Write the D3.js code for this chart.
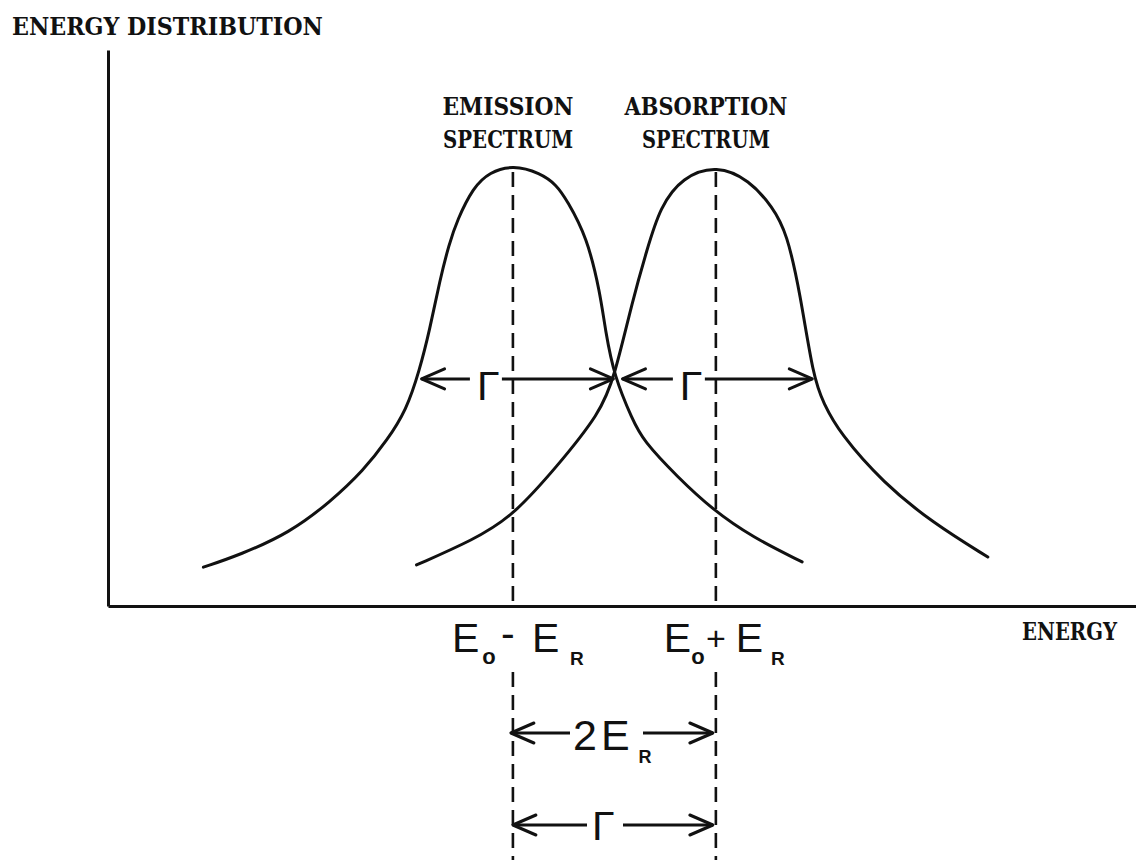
<!DOCTYPE html>
<html>
<head>
<meta charset="utf-8">
<script src="https://cdn.jsdelivr.net/npm/d3@7"></script>
<style>
  body { margin: 0; background: #fff; }
  svg { display: block; }
</style>
</head>
<body>
<svg id="chart" width="1136" height="860"></svg>
<script>
// Energy in units of the recoil energy E_R, measured from the transition energy E0.
const tickEnergies = [-1, 1];
const tickSigns = ["-", "+"];
const peakCenters = [-1, 1];
const peakTitles = [["EMISSION", "SPECTRUM"], ["ABSORPTION", "SPECTRUM"]];

// Emission line shape (relative intensity vs energy)
const emissionE = [-4.05, -3.69, -3.20, -2.80, -2.47, -2.24, -2.05, -1.92, -1.82, -1.72, -1.63, -1.55, -1.39, -1.23, -1.00,
                   -0.73, -0.57, -0.47, -0.27, -0.14, -0.09, 0.00, 0.18, 0.28, 0.62, 0.97, 1.36, 1.85];
const emissionI = [0.088, 0.116, 0.166, 0.236, 0.308, 0.376, 0.444, 0.535, 0.626, 0.739, 0.820, 0.875, 0.950, 0.984, 1.000,
                   0.982, 0.955, 0.921, 0.837, 0.710, 0.626, 0.519, 0.422, 0.376, 0.293, 0.218, 0.156, 0.100];

// Absorption line shape
const absorptionE = [-1.95, -1.39, -1.01, -0.57, -0.14, 0.00, 0.18, 0.32, 0.45, 0.67, 1.01, 1.33, 1.56, 1.70, 1.83, 1.96,
                     2.06, 2.22, 2.65, 3.14, 3.68];
const absorptionI = [0.093, 0.150, 0.202, 0.315, 0.438, 0.519, 0.694, 0.807, 0.905, 0.973, 1.000, 0.966, 0.905, 0.846, 0.710, 0.519,
                     0.460, 0.392, 0.279, 0.188, 0.111];

// Full width at half maximum markers
const halfLevel = 0.515;
const gammaSpans = [[-1.91, 0.00], [0.07, 1.96]];
// Separation between the two line centres
const gapSpan = [-1, 1];

const svg = d3.select("#chart");
const W = 1136, H = 860;
const ink = "#111";

const x = d3.scaleLinear().domain([-4.99, 5.14]).range([108, 1136]);
const y = d3.scaleLinear().domain([0, 1.261]).range([606, 50]);

const typeFont = "'DejaVu Serif', 'Liberation Serif', serif";
const letterFont = "'Liberation Sans', 'DejaVu Sans', sans-serif";

// Axes (frame lines only)
svg.append("g")
  .attr("transform", `translate(0,${y(0)})`)
  .call(d3.axisBottom(x).tickValues([]).tickSizeOuter(0))
  .call(g => g.select(".domain").attr("stroke", ink).attr("stroke-width", 3));
svg.append("g")
  .attr("transform", `translate(${x.range()[0]},0)`)
  .call(d3.axisLeft(y).tickValues([]).tickSizeOuter(0))
  .call(g => g.select(".domain").attr("stroke", ink).attr("stroke-width", 3));

// Typewritten caption, squeezed horizontally to the given width
function typed(txt, px, py, w) {
  const t = svg.append("text").attr("x", 0).attr("y", 0)
    .attr("font-family", typeFont).attr("font-weight", "bold").attr("font-size", 24)
    .attr("fill", ink).text(txt);
  const natural = t.node().getComputedTextLength() || w;
  t.attr("transform", `translate(${px},${py}) scale(${w / natural},1)`);
}

// Axis titles
typed("ENERGY DISTRIBUTION", 12, 35, 311);
typed("ENERGY", 1022, 640, 95);

// Spectrum titles above each peak
const titleLayout = [
  [{ cx: 508, w: 131 }, { cx: 508, w: 130 }],
  [{ cx: 706, w: 163 }, { cx: 706, w: 128 }]
];
peakTitles.forEach((lines, i) => {
  lines.forEach((t, j) => {
    const L = titleLayout[i][j];
    typed(t, L.cx - L.w / 2, 115 + j * 33, L.w);
  });
});

// Dashed centre lines
tickEnergies.forEach(e => {
  [[172, y(0)], [672, H]].forEach(([y1, y2]) => {
    svg.append("line")
      .attr("x1", x(e)).attr("x2", x(e)).attr("y1", y1).attr("y2", y2)
      .attr("stroke", ink).attr("stroke-width", 2.6)
      .attr("stroke-dasharray", "15 8");
  });
});

// Line shapes
const line = d3.line()
  .x(d => x(d[0])).y(d => y(d[1]))
  .curve(d3.curveBasis);
[[emissionE, emissionI], [absorptionE, absorptionI]].forEach(([es, is]) => {
  svg.append("path")
    .datum(es.map((e, k) => [e, is[k]]))
    .attr("d", line)
    .attr("fill", "none").attr("stroke", ink).attr("stroke-width", 3)
    .attr("stroke-linecap", "round");
});

// Arrow helpers
function shaft(x1, x2, yy) {
  svg.append("line").attr("x1", x1).attr("x2", x2).attr("y1", yy).attr("y2", yy)
    .attr("stroke", ink).attr("stroke-width", 3);
}
function head(tip, yy, dir) {
  svg.append("path")
    .attr("d", `M${tip + dir * 23},${yy - 10}L${tip},${yy}L${tip + dir * 23},${yy + 10}`)
    .attr("fill", "none").attr("stroke", ink).attr("stroke-width", 3)
    .attr("stroke-linejoin", "round").attr("stroke-linecap", "round");
}
function letter(txt, px, py, size, weight, anchor) {
  svg.append("text").attr("x", px).attr("y", py)
    .attr("font-family", letterFont).attr("font-size", size)
    .attr("font-weight", weight || "normal")
    .attr("text-anchor", anchor || "start")
    .attr("fill", ink).text(txt);
}

// Half-width arrows with Γ
gammaSpans.forEach(([a, b], i) => {
  const yy = y(halfLevel);
  const cx = x(peakCenters[i]);
  const left = x(a), right = x(b);
  shaft(left + 1, cx - 43, yy);
  shaft(cx - 11, right - 1, yy);
  head(left + 1, yy, 1);
  head(right - 1, yy, -1);
  letter("Γ", cx - 36, yy + 21, 41);
});

// Energy labels under the axis
const signLayout = {
  "-": { e1: -61, o: -24, s: -5, e2: 19, r: 64, size: 41, base: 647 },
  "+": { e1: -52, o: -18, s: 0, e2: 20, r: 62, size: 34, base: 650 }
};
tickEnergies.forEach((e, i) => {
  const cx = x(e);
  const L = signLayout[tickSigns[i]];
  letter("E", cx + L.e1, 652, 41);
  letter("o", cx + L.o, 664, 22, "bold", "middle");
  letter(tickSigns[i], cx + L.s, L.base, L.size, "normal", "middle");
  letter("E", cx + L.e2, 652, 41);
  letter("R", cx + L.r, 665, 19, "bold", "middle");
});

// Separation arrows below the axis
const gx1 = x(gapSpan[0]) - 2, gx2 = x(gapSpan[1]) - 3;
// 2E_R
shaft(gx1, 570, 733);
shaft(643, gx2, 733);
head(gx1, 733, 1);
head(gx2, 733, -1);
letter("2", 573, 750, 43);
letter("E", 601, 750, 43);
letter("R", 645, 763, 18, "bold", "middle");
// Γ
shaft(gx1 + 2, 587, 825);
shaft(623, gx2, 825);
head(gx1 + 2, 825, 1);
head(gx2, 825, -1);
letter("Γ", 592, 840, 41);
</script>
</body>
</html>
